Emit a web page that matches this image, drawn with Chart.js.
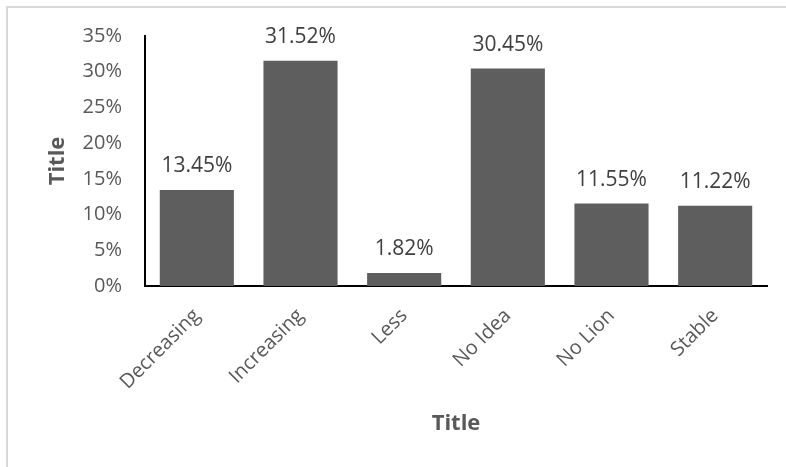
<!DOCTYPE html>
<html>
<head>
<meta charset="utf-8">
<script src="https://cdn.jsdelivr.net/npm/chart.js@4.4.1/dist/chart.umd.min.js"></script>
<style>
	body { margin: 0; background: #fff; overflow: hidden; }
	#frame { position: absolute; left: 6px; top: 6px; width: 820px; height: 520px; border-left: 2px solid #d9d9d9; border-top: 2px solid #d9d9d9; }
	#holder { position: absolute; left: 0; top: 0; width: 786px; height: 467px; }
</style>
</head>
<body>
<div id="frame"></div>
<div id="holder"><canvas id="trendChart" width="786" height="467"></canvas></div>
<script>
var categories = ["Decreasing", "Increasing", "Less", "No Idea", "No Lion", "Stable"];
var values = [13.45, 31.52, 1.82, 30.45, 11.55, 11.22];
var yTicks = [0, 5, 10, 15, 20, 25, 30, 35];

// labels above each bar, like excel data labels
var barLabels = {
	id: "barLabels",
	afterDatasetsDraw: function(chart)
	{
		var ctx = chart.ctx;
		var meta = chart.getDatasetMeta(0);
		ctx.save();
		ctx.font = "21px 'Open Sans'";
		ctx.fillStyle = "#404040";
		ctx.textAlign = "center";
		ctx.textBaseline = "alphabetic";
		for (var i = 0; i < meta.data.length; i++)
		{
			var bar = meta.data[i];
			ctx.fillText(values[i].toFixed(2) + "%", bar.x, bar.y - 18);
		}
		ctx.restore();
	}
};

new Chart("trendChart", {
	type: "bar",
	data: {
		labels: categories,
		datasets: [{
			data: values,
			backgroundColor: "#5e5e5e",
			categoryPercentage: 1,
			barPercentage: 0.715
		}]
	},
	options: {
		responsive: false,
		animation: false,
		layout: { padding: { top: 36, right: 19, left: 0, bottom: 0 } },
		plugins: {
			legend: { display: false },
			tooltip: { enabled: false }
		},
		scales: {
			x: {
				grid: { display: false, drawTicks: false },
				border: { color: "#000", width: 2 },
				ticks: {
					color: "#595959",
					font: { family: "'Open Sans'", size: 20 },
					minRotation: 45,
					maxRotation: 45,
					padding: 18
				},
				title: {
					display: true,
					text: "Title",
					color: "#595959",
					font: { family: "'Open Sans'", size: 22, weight: "bold" },
					padding: { top: 0, bottom: 30 }
				},
				afterFit: function(scale) { scale.height = 181; }
			},
			y: {
				min: 0,
				max: 35,
				afterBuildTicks: function(scale) {
					scale.ticks = yTicks.map(function(v) { return { value: v }; });
				},
				grid: { display: false, drawTicks: false },
				border: { color: "#000", width: 2 },
				ticks: {
					color: "#595959",
					font: { family: "'Open Sans'", size: 20 },
					padding: 23,
					callback: function(v) { return v + "%"; }
				},
				title: {
					display: true,
					text: "Title",
					color: "#595959",
					font: { family: "'Open Sans'", size: 22, weight: "bold" },
					padding: { top: 45, bottom: 0 }
				},
				afterFit: function(scale) { scale.width = 145; }
			}
		}
	},
	plugins: [barLabels]
});
</script>
</body>
</html>
